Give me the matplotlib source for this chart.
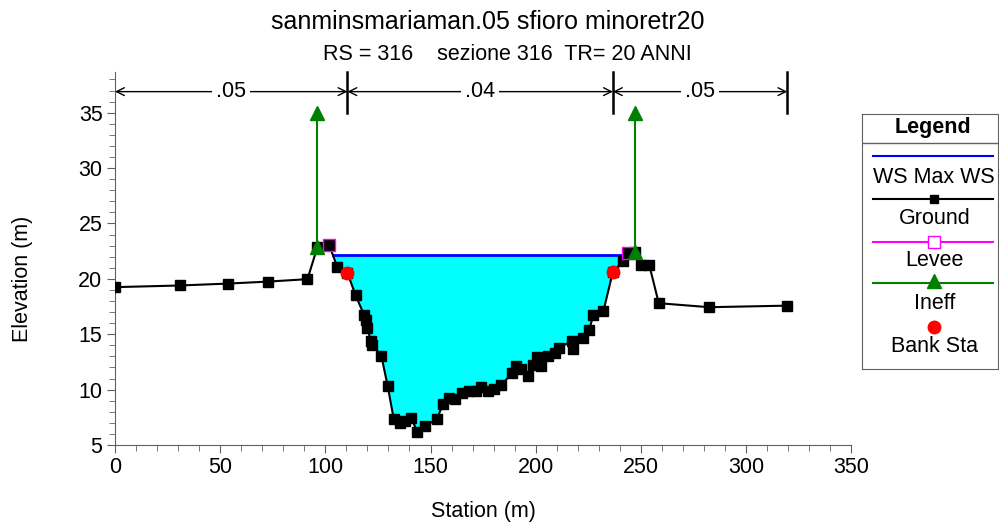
import numpy as np
import matplotlib
matplotlib.use("Agg")
import matplotlib.pyplot as plt
from matplotlib.lines import Line2D

plt.rcParams['font.family'] = ['Liberation Sans', 'DejaVu Sans']

# ground profile (station m, elevation m)
station = [0, 30.9, 53.5, 72.6, 91.5, 96.2, 101.8, 105.7, 110.5, 114.4, 118.4, 119.5,
           120.0, 121.6, 122.4, 126.6, 129.6, 132.5, 135.3, 137.7, 140.9, 143.7, 147.5,
           153.0, 155.9, 158.7, 161.6, 164.8, 168.2, 171.4, 174.1, 177.3, 180.1, 183.6,
           188.7, 190.8, 193.1, 196.3, 198.6, 200.5, 202.6, 205.7, 209.4, 211.3, 217.3,
           217.6, 222.4, 225.5, 227.3, 232.2, 236.7, 241.7, 243.7, 247.4, 250.1, 254.0,
           258.5, 282.5, 319.6]
elevation = [19.25, 19.4, 19.57, 19.75, 19.97, 22.85, 23.07, 21.05, 20.55, 18.5, 16.75, 16.3,
             15.55, 14.4, 14.0, 13.07, 10.36, 7.35, 6.96, 7.17, 7.41, 6.2, 6.74,
             7.32, 8.7, 9.27, 9.13, 9.67, 9.88, 9.85, 10.2, 9.9, 10.1, 10.4,
             11.48, 12.1, 11.9, 11.26, 12.2, 12.9, 12.1, 13.07, 13.3, 13.8, 14.4,
             13.7, 14.7, 15.4, 16.7, 17.1, 20.65, 21.6, 22.37, 22.4, 21.23, 21.23,
             17.8, 17.44, 17.58]

ws_elev = 22.15                       # WS Max WS
levee_sta = [101.8, 243.7]
levee_elev = [23.07, 22.37]
ineff_sta = [96.2, 247.4]
ineff_elev = [22.85, 22.4]
ineff_top = 35.0
bank_sta = [110.5, 236.7]
bank_elev = [20.55, 20.65]
n_limits = [0, 110.5, 236.7, 319.6]
n_values = [".05", ".04", ".05"]

st = np.array(station)
el = np.array(elevation)

FS = 15.5

fig = plt.figure(figsize=(9.99, 5.26), dpi=100)
ax = fig.add_axes([0.1151, 0.154, 0.737, 0.7097])

# cerca i punti in cui il pelo libero incrocia il terreno (tra i due argini)
i_left = np.argmin(np.abs(st - bank_sta[0]))
i_right = np.argmin(np.abs(st - bank_sta[1]))
j = i_left
while el[j - 1] < ws_elev:
    j -= 1
x_l = np.interp(ws_elev, [el[j], el[j - 1]], [st[j], st[j - 1]])
k = i_right
while el[k + 1] < ws_elev:
    k += 1
x_r = np.interp(ws_elev, [el[k], el[k + 1]], [st[k], st[k + 1]])

# riempimento acqua
xs = np.concatenate([[x_l], st[j:k + 1], [x_r]])
ys = np.concatenate([[ws_elev], el[j:k + 1], [ws_elev]])
ax.fill_between(xs, ys, ws_elev, color="cyan", lw=0, zorder=1)
ax.plot([x_l, x_r], [ws_elev, ws_elev], color="blue", lw=2, zorder=2)

# terreno
ax.plot(st, el, color="black", lw=1.5, marker="s", ms=6.5, zorder=3)

# argini
ax.plot(levee_sta, levee_elev, ls="none", marker="s", ms=9, mfc="none", mec="magenta",
        mew=1, zorder=4)

# aree inefficaci
for s, e in zip(ineff_sta, ineff_elev):
    ax.plot([s, s], [e, ineff_top], color="green", lw=1.5, zorder=4)
    ax.plot([s, s], [e, ineff_top], ls="none", marker="^", ms=10, color="green", zorder=5)

# sponde
ax.plot(bank_sta, bank_elev, ls="none", marker="o", ms=9, color="red", zorder=6)

# scabrezze di Manning in alto
y_arr = 36.9
for i in range(len(n_values)):
    ax.annotate("", xy=(n_limits[i], y_arr), xytext=(n_limits[i + 1], y_arr),
                arrowprops=dict(arrowstyle="<->", lw=1, color="black",
                                shrinkA=0, shrinkB=0, mutation_scale=14),
                annotation_clip=False)
    ax.text((n_limits[i] + n_limits[i + 1]) / 2, y_arr, n_values[i], ha="center",
            va="center", fontsize=FS,
            bbox=dict(facecolor="white", edgecolor="none", pad=3))
for s in n_limits[1:]:
    ax.plot([s, s], [35.0, 38.7], color="black", lw=1.8, clip_on=False)

ax.set_xlim(0, 350)
ax.set_ylim(5, 38.7)
ax.set_xticks(range(0, 351, 50))
ax.set_xticks(range(0, 351, 10), minor=True)
ax.set_yticks(range(5, 36, 5))
ax.set_yticks(range(5, 39), minor=True)
ax.spines["top"].set_visible(False)
ax.spines["right"].set_visible(False)
for sp in ("left", "bottom"):
    ax.spines[sp].set_color("#606060")
ax.tick_params(which="major", length=6, color="#606060", labelsize=FS, pad=3)
ax.tick_params(which="minor", length=4, color="#606060")
ax.set_xlabel("Station (m)", fontsize=FS, va="center")
ax.set_ylabel("Elevation (m)", fontsize=FS, va="center")
ax.xaxis.set_label_coords(0.5, -0.177)
ax.yaxis.set_label_coords(-0.126, 0.445)

fig.text(0.488, 0.958, "sanminsmariaman.05 sfioro minoretr20", ha="center", va="center",
         fontsize=18)
fig.text(0.508, 0.897, "RS = 316    sezione 316  TR= 20 ANNI", ha="center", va="center",
         fontsize=15.5)

# legenda disegnata a mano
lax = fig.add_axes([862 / 999, 1 - 369 / 526, 136 / 999, 255 / 526])
lax.set_xlim(0, 1)
lax.set_ylim(0, 1)
lax.set_xticks([])
lax.set_yticks([])
for sp in lax.spines.values():
    sp.set_color("#606060")
lax.text(0.52, 0.949, "Legend", ha="center", va="center", fontsize=FS, fontweight="bold")
lax.axhline(0.885, color="#606060", lw=1)
x0, x1, xm = 0.083, 0.961, 0.532
lax.add_line(Line2D([x0, x1], [0.837, 0.837], color="blue", lw=1.5))
lax.text(xm, 0.751, "WS Max WS", ha="center", va="center", fontsize=FS)
lax.add_line(Line2D([x0, x1], [0.667, 0.667], color="black", lw=1.5))
lax.plot([xm], [0.667], marker="s", ms=6, color="black")
lax.text(xm, 0.592, "Ground", ha="center", va="center", fontsize=FS)
lax.add_line(Line2D([x0, x1], [0.499, 0.499], color="magenta", lw=1.5))
lax.plot([xm], [0.499], marker="s", ms=8.5, mfc="white", mec="magenta", mew=1)
lax.text(xm, 0.424, "Levee", ha="center", va="center", fontsize=FS)
lax.add_line(Line2D([x0, x1], [0.336, 0.336], color="green", lw=1.5))
lax.plot([xm], [0.345], marker="^", ms=10, color="green")
lax.text(xm, 0.255, "Ineff", ha="center", va="center", fontsize=FS)
lax.plot([xm], [0.165], marker="o", ms=9, color="red")
lax.text(xm, 0.090, "Bank Sta", ha="center", va="center", fontsize=FS)

fig.savefig("out.png", dpi=100)
